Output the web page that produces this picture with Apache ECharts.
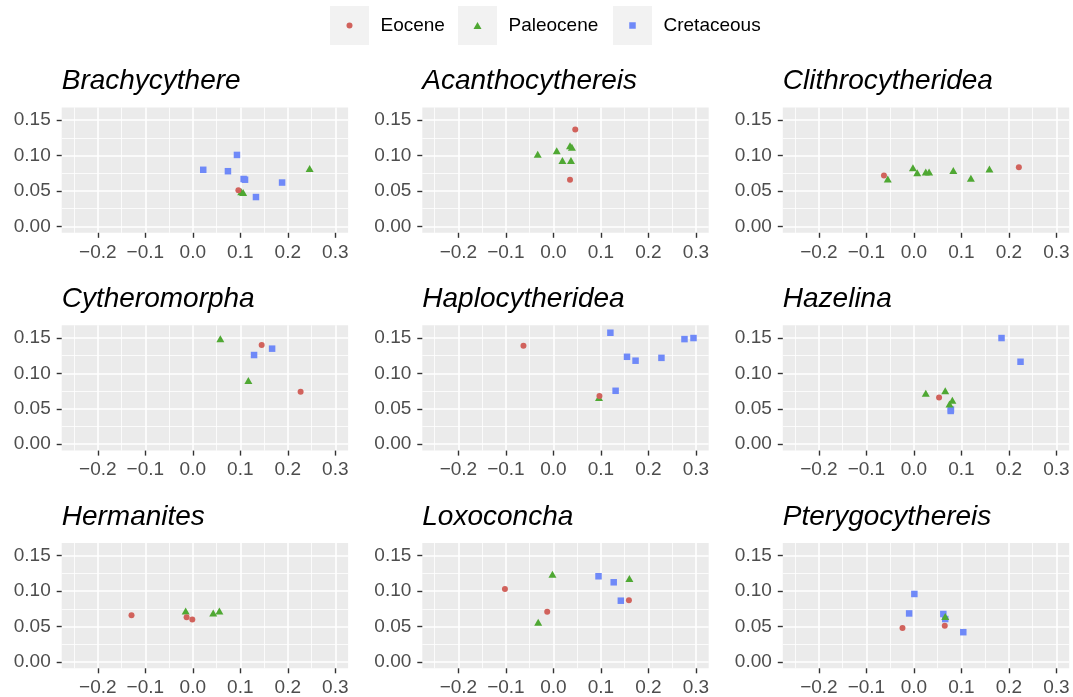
<!DOCTYPE html>
<html><head><meta charset="utf-8">
<script src="https://cdn.jsdelivr.net/npm/echarts@6/dist/echarts.min.js"></script>
<style>html,body{margin:0;padding:0;background:#fff}#c{width:1073px;height:697px}</style>
</head><body><div id="c"></div>
<script>
const genera = ['Brachycythere','Acanthocythereis','Clithrocytheridea','Cytheromorpha','Haplocytheridea','Hazelina','Hermanites','Loxoconcha','Pterygocythereis'];
const epochs = ['Eocene','Paleocene','Cretaceous'];

const eocenePoints = [
  ['Brachycythere', 0.096, 0.051],
  ['Acanthocythereis', 0.046, 0.137], ['Acanthocythereis', 0.035, 0.066],
  ['Clithrocytheridea', -0.063, 0.072], ['Clithrocytheridea', 0.221, 0.0835],
  ['Cytheromorpha', 0.145, 0.140], ['Cytheromorpha', 0.227, 0.074],
  ['Haplocytheridea', -0.063, 0.139], ['Haplocytheridea', 0.097, 0.068],
  ['Hazelina', 0.053, 0.066],
  ['Hermanites', -0.129, 0.066], ['Hermanites', -0.013, 0.063], ['Hermanites', -0.001, 0.060],
  ['Loxoconcha', -0.102, 0.103], ['Loxoconcha', -0.013, 0.071], ['Loxoconcha', 0.159, 0.087],
  ['Pterygocythereis', -0.024, 0.048], ['Pterygocythereis', 0.065, 0.051]
];
const paleocenePoints = [
  ['Brachycythere', 0.246, 0.082], ['Brachycythere', 0.102, 0.049], ['Brachycythere', 0.106, 0.048],
  ['Acanthocythereis', -0.033, 0.102], ['Acanthocythereis', 0.007, 0.107], ['Acanthocythereis', 0.019, 0.093],
  ['Acanthocythereis', 0.035, 0.114], ['Acanthocythereis', 0.039, 0.112], ['Acanthocythereis', 0.037, 0.093],
  ['Clithrocytheridea', -0.055, 0.067], ['Clithrocytheridea', -0.002, 0.083], ['Clithrocytheridea', 0.007, 0.076],
  ['Clithrocytheridea', 0.025, 0.077], ['Clithrocytheridea', 0.032, 0.077], ['Clithrocytheridea', 0.083, 0.079],
  ['Clithrocytheridea', 0.120, 0.068], ['Clithrocytheridea', 0.159, 0.081],
  ['Cytheromorpha', 0.058, 0.149], ['Cytheromorpha', 0.117, 0.090],
  ['Haplocytheridea', 0.096, 0.066],
  ['Hazelina', 0.025, 0.072], ['Hazelina', 0.066, 0.0755], ['Hazelina', 0.081, 0.062], ['Hazelina', 0.075, 0.057],
  ['Hermanites', -0.015, 0.072], ['Hermanites', 0.043, 0.069], ['Hermanites', 0.056, 0.072],
  ['Loxoconcha', -0.032, 0.056], ['Loxoconcha', -0.002, 0.124], ['Loxoconcha', 0.160, 0.118],
  ['Pterygocythereis', 0.066, 0.064]
];
const cretaceousPoints = [
  ['Brachycythere', 0.022, 0.080], ['Brachycythere', 0.074, 0.078], ['Brachycythere', 0.093, 0.101],
  ['Brachycythere', 0.107, 0.067], ['Brachycythere', 0.110, 0.066], ['Brachycythere', 0.133, 0.0415],
  ['Brachycythere', 0.188, 0.062],
  ['Cytheromorpha', 0.129, 0.126], ['Cytheromorpha', 0.167, 0.135],
  ['Haplocytheridea', 0.120, 0.1575], ['Haplocytheridea', 0.155, 0.1235], ['Haplocytheridea', 0.173, 0.118],
  ['Haplocytheridea', 0.2275, 0.122], ['Haplocytheridea', 0.131, 0.0755], ['Haplocytheridea', 0.276, 0.1485],
  ['Haplocytheridea', 0.295, 0.150],
  ['Hazelina', 0.1845, 0.150], ['Hazelina', 0.2245, 0.1165], ['Hazelina', 0.0775, 0.047], ['Hazelina', 0.078, 0.049],
  ['Loxoconcha', 0.095, 0.121], ['Loxoconcha', 0.127, 0.1125], ['Loxoconcha', 0.142, 0.0865],
  ['Pterygocythereis', 0.001, 0.096], ['Pterygocythereis', -0.010, 0.0685], ['Pterygocythereis', 0.062, 0.0677],
  ['Pterygocythereis', 0.066, 0.0606], ['Pterygocythereis', 0.104, 0.042]
];

const xMajorTicks = [-0.2, -0.1, 0, 0.1, 0.2, 0.3];
const xMinorTicks = [-0.25, -0.15, -0.05, 0.05, 0.15, 0.25];
const yMajorTicks = [0, 0.05, 0.1, 0.15];
const yMinorTicks = [0.025, 0.075, 0.125];

const X_MIN = -0.276, X_MAX = 0.327, Y_MIN = -0.009, Y_MAX = 0.168;
const colLeft = [61.7, 422.3, 782.8];
const rowTop = [107.5, 325.3, 543.0];
const panelW = 286.4, panelH = 125.3;
const FONT = '"Liberation Sans", Arial, Helvetica, sans-serif';
const colors = {Eocene: '#D1625C', Paleocene: '#4FA833', Cretaceous: '#6F89F8'};
const symbols = {Eocene: ['circle', 6], Paleocene: ['triangle', [8, 7]], Cretaceous: ['rect', 6.5]};
const pointsByEpoch = {Eocene: eocenePoints, Paleocene: paleocenePoints, Cretaceous: cretaceousPoints};

const fmtX = v => { const s = Math.abs(v) < 1e-9 ? '0.0' : v.toFixed(1); return s.replace('-', '\u2212'); };
const fmtY = v => (Math.abs(v) < 1e-9 ? 0 : v).toFixed(2);

const grids = [], xAxes = [], yAxes = [], titles = [], series = [];
genera.forEach((g, i) => {
  const r = Math.floor(i / 3), c = i % 3;
  grids.push({left: colLeft[c], top: rowTop[r], width: panelW, height: panelH,
    show: true, backgroundColor: '#EBEBEB', borderWidth: 0, outerBoundsMode: 'none'});
  titles.push({text: g, left: colLeft[c], top: rowTop[r] - 40, padding: 0,
    textStyle: {fontSize: 28, fontStyle: 'italic', fontWeight: 'normal', color: '#000', fontFamily: FONT}});
  xAxes.push({gridIndex: i, type: 'value', min: X_MIN, max: X_MAX, position: 'bottom',
    axisLine: {show: false, onZero: false},
    axisTick: {show: true, length: 5, lineStyle: {color: '#333333', width: 1.4}, customValues: xMajorTicks},
    axisLabel: {customValues: xMajorTicks, formatter: fmtX, color: '#4D4D4D', fontSize: 19, margin: 10, fontFamily: FONT},
    splitLine: {show: true, lineStyle: {color: '#FFFFFF', width: 1.6}}});
  xAxes.push({gridIndex: i, type: 'value', min: X_MIN, max: X_MAX, position: 'top',
    axisLine: {show: false, onZero: false},
    axisTick: {show: false, customValues: xMinorTicks},
    axisLabel: {show: false, customValues: xMinorTicks},
    splitLine: {show: true, lineStyle: {color: '#FFFFFF', width: 0.8}}});
  yAxes.push({gridIndex: i, type: 'value', min: Y_MIN, max: Y_MAX, position: 'left',
    axisLine: {show: false, onZero: false},
    axisTick: {show: true, length: 5, lineStyle: {color: '#333333', width: 1.4}, customValues: yMajorTicks},
    axisLabel: {customValues: yMajorTicks, formatter: fmtY, color: '#4D4D4D', fontSize: 19, margin: 11, fontFamily: FONT},
    splitLine: {show: true, lineStyle: {color: '#FFFFFF', width: 1.6}}});
  yAxes.push({gridIndex: i, type: 'value', min: Y_MIN, max: Y_MAX, position: 'right',
    axisLine: {show: false, onZero: false},
    axisTick: {show: false, customValues: yMinorTicks},
    axisLabel: {show: false, customValues: yMinorTicks},
    splitLine: {show: true, lineStyle: {color: '#FFFFFF', width: 0.8}}});
  ['Cretaceous', 'Paleocene', 'Eocene'].forEach(e => {
    series.push({type: 'scatter', name: e, xAxisIndex: 2 * i, yAxisIndex: 2 * i,
      symbol: symbols[e][0], symbolSize: symbols[e][1],
      itemStyle: {color: colors[e], opacity: 1},
      data: pointsByEpoch[e].filter(p => p[0] === g).map(p => [p[1], p[2]])});
  });
});

const keyCenters = [349.5, 477.5, 632.5];
const keyCY = 25.5;
const legendIcon = {Eocene: [6, 6], Paleocene: [8, 7], Cretaceous: [6.5, 6.5]};
const legends = epochs.map((e, k) => {
  const [w, h] = legendIcon[e];
  const left = keyCenters[k] - w / 2;
  const pad = keyCenters[k] + 31 - (left + w + 5);
  return {data: [e], left: left, top: keyCY - 9.5, padding: 0, itemWidth: w, itemHeight: h,
    selectedMode: true,
    textStyle: {fontSize: 19, color: '#000', fontFamily: FONT, padding: [0, 0, 0, pad]}};
});
const graphics = keyCenters.map(cx => ({type: 'rect', silent: true, z: 0,
  shape: {x: cx - 19.5, y: keyCY - 19.5, width: 39, height: 39}, style: {fill: '#F2F2F2'}}));

const chart = echarts.init(document.getElementById('c'), null, {renderer: 'canvas'});
chart.setOption({
  animation: false,
  backgroundColor: '#FFFFFF',
  title: titles,
  legend: legends,
  graphic: graphics,
  grid: grids,
  xAxis: xAxes,
  yAxis: yAxes,
  series: series
});
</script></body></html>
